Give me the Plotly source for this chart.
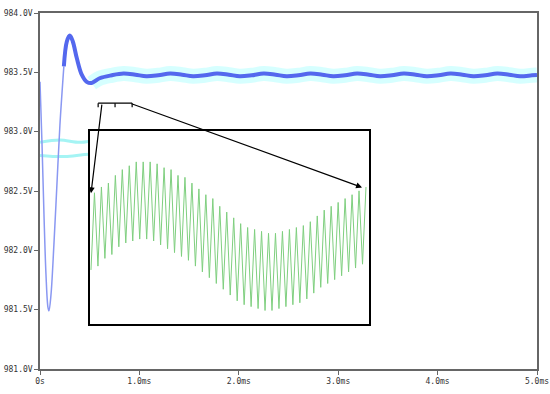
import numpy as np
import plotly.graph_objects as go

# ---------------- data ----------------
# main trace: time (ms) and voltage (V)
t_main = [0.00, 0.02, 0.04, 0.06, 0.08, 0.09, 0.11, 0.14, 0.17, 0.20, 0.24, 0.27, 0.30,
          0.33, 0.37, 0.42, 0.47, 0.52, 0.60, 0.72, 0.84, 0.96, 1.07, 1.19, 1.31, 1.43,
          1.54, 1.66, 1.78, 1.90, 2.01, 2.13, 2.25, 2.37, 2.48, 2.60, 2.72, 2.84, 2.95,
          3.07, 3.19, 3.31, 3.42, 3.54, 3.66, 3.78, 3.89, 4.01, 4.13, 4.25, 4.36, 4.48,
          4.60, 4.72, 4.83, 4.95, 5.00]
v_main = [983.42, 982.90, 982.30, 981.80, 981.52, 981.49, 981.62, 982.05, 982.55, 983.05,
          983.55, 983.76, 983.81, 983.76, 983.62, 983.48, 983.42, 983.41, 983.45, 983.475,
          983.49, 983.48, 983.467, 983.475, 983.49, 983.48, 983.467, 983.475, 983.49, 983.48,
          983.467, 983.475, 983.49, 983.48, 983.467, 983.475, 983.49, 983.48, 983.467, 983.475,
          983.49, 983.48, 983.467, 983.475, 983.49, 983.48, 983.467, 983.475, 983.49, 983.48,
          983.467, 983.475, 983.49, 983.48, 983.467, 983.475, 983.478]

# faint cyan traces (upper and lower)
t_cyan_a = [0.00, 0.20, 0.40, 0.60, 0.80, 1.00, 1.20, 1.40, 1.60, 1.80, 2.00, 2.20, 2.42]
v_cyan_a = [982.91, 982.93, 982.91, 982.93, 982.91, 982.93, 982.91, 982.93, 982.91,
            982.93, 982.91, 982.93, 982.92]
t_cyan_b = [0.00, 0.25, 0.50, 0.75, 1.00, 1.25, 1.50, 1.70, 1.86]
v_cyan_b = [982.80, 982.79, 982.81, 982.79, 982.81, 982.80, 982.79, 982.80, 982.80]

# zoomed ripple (inset), relative units 0..100
ripple_bottom = [28, 30, 34, 36, 40, 42, 43, 44, 44, 43, 41, 39, 37, 35, 33, 30, 27, 24, 21, 18,
                 15, 12, 10, 9, 8, 7, 7, 8, 9, 10, 11, 13, 16, 19, 21, 23, 25, 27, 29, 31]
ripple_top = [68, 71, 73, 77, 80, 82, 84, 84, 84, 83, 81, 80, 77, 76, 73, 70, 67, 65, 61, 58,
              55, 52, 50, 49, 48, 47, 47, 48, 49, 50, 51, 53, 56, 59, 61, 63, 65, 67, 69, 71]
zoom_start, zoom_end = 0.585, 0.927   # ms, bracketed region

x_ticks = [0, 1, 2, 3, 4, 5]
x_tick_text = ["0s", "1.0ms", "2.0ms", "3.0ms", "4.0ms", "5.0ms"]
y_ticks = [981.0, 981.5, 982.0, 982.5, 983.0, 983.5, 984.0]
y_tick_text = ["981.0V", "981.5V", "982.0V", "982.5V", "983.0V", "983.5V", "984.0V"]

# ---------------- figure ----------------
ripple = []
for b, t in zip(ripple_bottom, ripple_top):
    ripple += [b, t]
t_ripple = np.linspace(0.5862, 0.9233, len(ripple))

split = 10  # thin initial part / thick settled part
fig = go.Figure()
# cyan halo behind settled trace
fig.add_trace(go.Scatter(x=t_main[17:], y=v_main[17:], mode="lines", line_shape="spline",
                         line=dict(color="rgba(210,255,255,0.9)", width=15), hoverinfo="skip"))
fig.add_trace(go.Scatter(x=t_cyan_a, y=v_cyan_a, mode="lines", line_shape="spline",
                         line=dict(color="#a5f4f4", width=3)))
fig.add_trace(go.Scatter(x=t_cyan_b, y=v_cyan_b, mode="lines", line_shape="spline",
                         line=dict(color="#a5f4f4", width=3)))
fig.add_trace(go.Scatter(x=t_main[:split + 1], y=v_main[:split + 1], mode="lines",
                         line_shape="spline", line=dict(color="#8a98f2", width=1.5)))
fig.add_trace(go.Scatter(x=t_main[split:], y=v_main[split:], mode="lines",
                         line_shape="spline", line=dict(color="#5468ee", width=4)))
fig.add_trace(go.Scatter(x=t_ripple, y=ripple, mode="lines", xaxis="x2", yaxis="y2",
                         line=dict(color="#7fcf7f", width=1)))

font = dict(family="DejaVu Sans Mono", size=8, color="#333")
fig.update_layout(
    width=550, height=394, margin=dict(l=40, r=13, t=13, b=25),
    paper_bgcolor="white", plot_bgcolor="white", showlegend=False,
    xaxis=dict(range=[0, 5], tickvals=x_ticks, ticktext=x_tick_text, ticks="outside",
               ticklen=4, tickcolor="#666", showgrid=False, zeroline=False, automargin=False,
               showline=True, linecolor="#666", linewidth=1.5, mirror=True, tickfont=font),
    yaxis=dict(range=[981.0, 984.0], tickvals=y_ticks, ticktext=y_tick_text, ticks="outside",
               ticklen=4, tickcolor="#666", showgrid=False, zeroline=False, automargin=False,
               showline=True, linecolor="#666", linewidth=1.5, mirror=True, tickfont=font),
    xaxis2=dict(domain=[0.1006, 0.662], anchor="y2", range=[zoom_start, zoom_end],
                showline=True, mirror=True, linecolor="black", linewidth=1.5,
                showticklabels=False, ticks="", showgrid=False, zeroline=False),
    yaxis2=dict(domain=[0.1264, 0.6685], anchor="x2", range=[0, 100],
                showline=True, mirror=True, linecolor="black", linewidth=1.5,
                showticklabels=False, ticks="", showgrid=False, zeroline=False),
)

# zoom bracket
yb = 983.24
dy = 0.035
for x0, x1, y0, y1 in [(zoom_start, zoom_end, yb, yb),
                       (zoom_start, zoom_start, yb, yb - dy),
                       (zoom_end, zoom_end, yb, yb - dy),
                       (0.755, 0.755, yb, yb - dy)]:
    fig.add_shape(type="line", xref="x", yref="y", x0=x0, x1=x1, y0=y0, y1=y1,
                  line=dict(color="black", width=1.2))

# arrows from bracket to inset
for (hx, hy), tx in [((0.513, 982.48), 0.624), ((3.24, 982.53), 0.906)]:
    fig.add_annotation(x=hx, y=hy, ax=tx, ay=yb, xref="x", yref="y", axref="x", ayref="y",
                       showarrow=True, arrowhead=2, arrowsize=1, arrowwidth=1.2,
                       arrowcolor="black", text="")

fig.write_html("out.html", config={"displayModeBar": False},
               post_script="document.body.style.margin='0';document.body.style.overflow='hidden';")
